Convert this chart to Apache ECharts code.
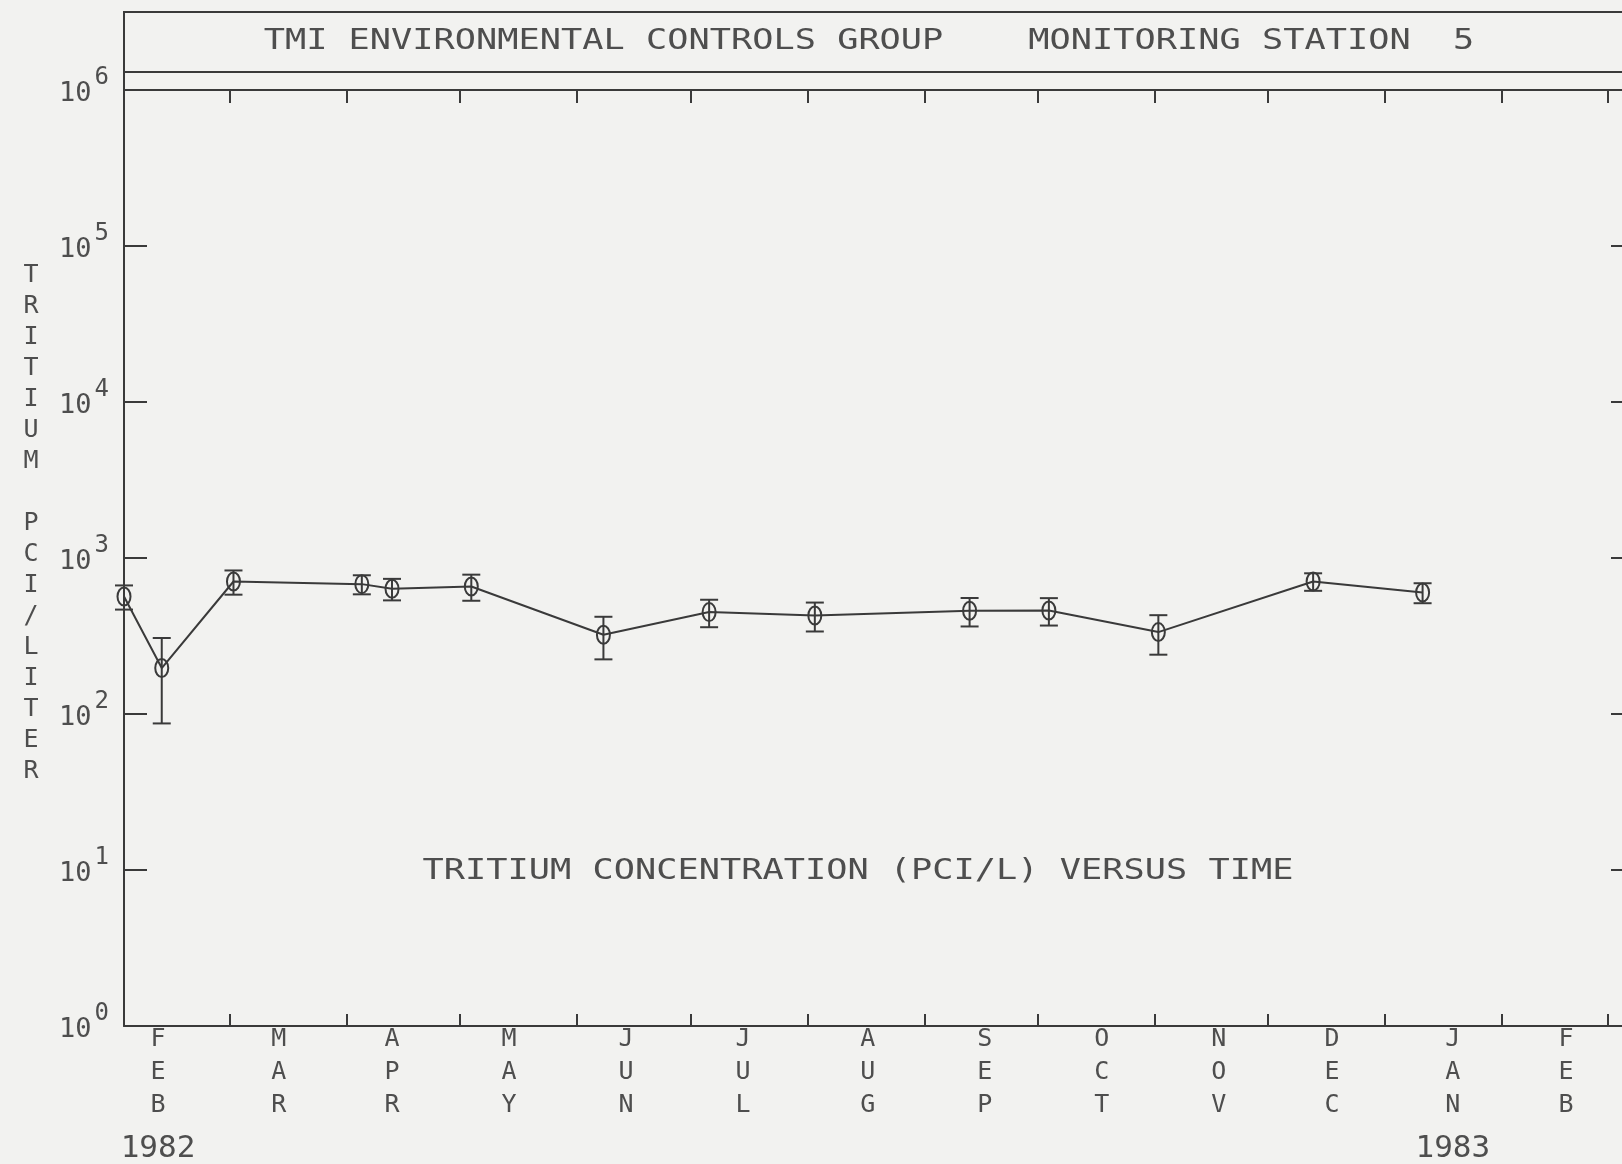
<!DOCTYPE html>
<html>
<head>
<meta charset="utf-8">
<title>Tritium concentration versus time - Monitoring Station 5</title>
<script src="https://cdn.jsdelivr.net/npm/echarts@6/dist/echarts.min.js"></script>
<style>
  html, body { margin: 0; padding: 0; background: #f2f2f0; }
  #chart { width: 1622px; height: 1164px; }
</style>
</head>
<body>
<div id="chart"></div>
<script>
// Sampling dates and tritium concentration (pCi/L) with one-sigma counting error
const sampleDates = ['1982-02-01', '1982-02-11', '1982-03-02', '1982-04-05', '1982-04-13',
  '1982-05-04', '1982-06-08', '1982-07-06', '1982-08-03', '1982-09-13', '1982-10-04',
  '1982-11-02', '1982-12-13', '1983-01-11'];
const tritium = [567, 197, 707, 680, 635, 657, 322, 450, 428, 459, 461, 335, 707, 601];
const tritiumError = [100, 110, 125, 95, 100, 125, 98, 90, 90, 95, 92, 95, 91, 88];

// Date axis: span, month boundaries and month / year labels
const axisStart = '1982-02-01';
const axisEnd = '1983-03-08';
const monthTicks = ['1982-02-01', '1982-03-01', '1982-04-01', '1982-05-01', '1982-06-01',
  '1982-07-01', '1982-08-01', '1982-09-01', '1982-10-01', '1982-11-01', '1982-12-01',
  '1983-01-01', '1983-02-01', '1983-03-01'];
const monthLabelDates = ['1982-02-10', '1982-03-14', '1982-04-13', '1982-05-14', '1982-06-14',
  '1982-07-15', '1982-08-17', '1982-09-17', '1982-10-18', '1982-11-18', '1982-12-18',
  '1983-01-19', '1983-02-18'];
const monthLabels = ['FEB', 'MAR', 'APR', 'MAY', 'JUN', 'JUL', 'AUG', 'SEP', 'OCT', 'NOV', 'DEC', 'JAN', 'FEB'];
const yearLabels = ['1982', '', '', '', '', '', '', '', '', '', '', '1983', ''];

// Log axis range (pCi/L)
const yMin = 1;
const yMax = 1e6;

const titleText = 'TMI ENVIRONMENTAL CONTROLS GROUP    MONITORING STATION  5';
const captionText = 'TRITIUM CONCENTRATION (PCI/L) VERSUS TIME';
const yAxisTitle = 'TRITIUM PCI/LITER';

const INK = '#3a3a3a';
const TEXT = '#4e4e4e';
const MONO = '"DejaVu Sans Mono", "Liberation Mono", monospace';

// Dates are plotted as millisecond timestamps (UTC) on a linear axis
function toTime(s) {
  const [y, m, d] = s.split('-').map(Number);
  return Date.UTC(y, m - 1, d);
}

const labelTimes = monthLabelDates.map(toTime);
const seriesData = sampleDates.map((d, i) => [toTime(d), tritium[i], tritiumError[i]]);

function monthLabel(value) {
  let best = 0, bestDist = Infinity;
  labelTimes.forEach((t, i) => {
    const dist = Math.abs(t - value);
    if (dist < bestDist) { bestDist = dist; best = i; }
  });
  const letters = monthLabels[best].split('').join('\n');
  return yearLabels[best] ? letters + '\n{yr|' + yearLabels[best] + '}' : letters;
}

function decadeLabel(value) {
  const n = Math.round(Math.log10(value));
  return '{b|10}{e|' + n + '}';
}

// Error bar with caps plus an open oval marker at each sample
function renderErrorMarker(params, api) {
  const t = api.value(0);
  const v = api.value(1);
  const e = api.value(2);
  const c = api.coord([t, v]);
  const hi = api.coord([t, v + e]);
  const lo = api.coord([t, Math.max(v - e, yMin)]);
  const cap = 9;
  const style = { stroke: INK, lineWidth: 2, fill: null };
  return {
    type: 'group',
    children: [
      { type: 'line', shape: { x1: c[0], y1: hi[1], x2: c[0], y2: lo[1] }, style: style },
      { type: 'line', shape: { x1: c[0] - cap, y1: hi[1], x2: c[0] + cap, y2: hi[1] }, style: style },
      { type: 'line', shape: { x1: c[0] - cap, y1: lo[1], x2: c[0] + cap, y2: lo[1] }, style: style },
      { type: 'ellipse', shape: { cx: c[0], cy: c[1], rx: 6.5, ry: 9 }, style: { stroke: INK, lineWidth: 2, fill: 'rgba(0,0,0,0)' } }
    ]
  };
}

const chart = echarts.init(document.getElementById('chart'));

const dateAxisCommon = {
  type: 'value',
  min: toTime(axisStart),
  max: toTime(axisEnd),
  scale: true,
  splitLine: { show: false },
  axisLine: { show: true, lineStyle: { color: INK, width: 2 } }
};

const logAxisCommon = {
  type: 'log',
  logBase: 10,
  min: yMin,
  max: yMax,
  splitNumber: 6,
  splitLine: { show: false },
  minorTick: { show: false },
  axisLine: { show: true, lineStyle: { color: INK, width: 2 } },
  axisTick: { show: true, inside: true, length: 23, lineStyle: { color: INK, width: 2 } }
};

chart.setOption({
  animation: false,
  backgroundColor: '#f2f2f0',
  grid: {
    left: 124,
    right: -12,
    top: 90,
    bottom: 138,
    containLabel: false,
    outerBoundsMode: 'none'
  },
  xAxis: [
    Object.assign({}, dateAxisCommon, {
      position: 'bottom',
      axisTick: {
        show: true, inside: true, length: 12,
        customValues: monthTicks.map(toTime),
        lineStyle: { color: INK, width: 2 }
      },
      axisLabel: {
        show: true,
        customValues: labelTimes,
        formatter: monthLabel,
        margin: -3,
        fontFamily: MONO,
        fontSize: 25,
        lineHeight: 33,
        color: TEXT,
        align: 'center',
        rich: {
          yr: { fontFamily: MONO, fontSize: 31, lineHeight: 54, color: TEXT }
        }
      }
    }),
    Object.assign({}, dateAxisCommon, {
      position: 'top',
      axisTick: {
        show: true, inside: true, length: 13,
        customValues: monthTicks.map(toTime),
        lineStyle: { color: INK, width: 2 }
      },
      axisLabel: { show: false }
    })
  ],
  yAxis: [
    Object.assign({}, logAxisCommon, {
      position: 'left',
      axisLabel: {
        show: true,
        margin: 15,
        formatter: decadeLabel,
        color: TEXT,
        fontFamily: MONO,
        rich: {
          b: { fontFamily: MONO, fontSize: 27, verticalAlign: 'top', padding: [14, 0, 0, 0], color: TEXT },
          e: { fontFamily: MONO, fontSize: 24, verticalAlign: 'top', padding: [0, 0, 24, 3], color: TEXT }
        }
      }
    }),
    Object.assign({}, logAxisCommon, {
      position: 'right',
      axisLabel: { show: false }
    })
  ],
  series: [
    {
      name: 'Tritium',
      type: 'line',
      xAxisIndex: 0,
      yAxisIndex: 0,
      data: seriesData.map(d => [d[0], d[1]]),
      showSymbol: false,
      lineStyle: { color: INK, width: 2 },
      clip: false,
      z: 2
    },
    {
      name: 'Tritium error',
      type: 'custom',
      xAxisIndex: 0,
      yAxisIndex: 0,
      data: seriesData,
      encode: { x: 0, y: 1 },
      renderItem: renderErrorMarker,
      clip: false,
      z: 3
    }
  ],
  graphic: [
    // Header box above the plot
    {
      type: 'rect',
      shape: { x: 124, y: 12, width: 1530, height: 78 },
      style: { fill: null, stroke: INK, lineWidth: 2 },
      silent: true
    },
    {
      type: 'line',
      shape: { x1: 124, y1: 72, x2: 1654, y2: 72 },
      style: { stroke: INK, lineWidth: 2 },
      silent: true
    },
    {
      type: 'text',
      x: 869,
      y: 42,
      scaleX: 1.26,
      style: {
        text: titleText,
        x: 0, y: 0,
        align: 'center',
        verticalAlign: 'middle',
        font: '28px ' + MONO,
        fill: TEXT
      },
      silent: true
    },
    {
      type: 'text',
      x: 858,
      y: 872,
      scaleX: 1.26,
      style: {
        text: captionText,
        x: 0, y: 0,
        align: 'center',
        verticalAlign: 'middle',
        font: '28px ' + MONO,
        fill: TEXT
      },
      silent: true
    },
    {
      type: 'text',
      x: 31,
      y: 523,
      style: {
        text: yAxisTitle.split('').map(ch => ch === ' ' ? '' : ch).join('\n'),
        x: 0, y: 0,
        align: 'center',
        verticalAlign: 'middle',
        font: '25px ' + MONO,
        lineHeight: 31,
        fill: TEXT
      },
      silent: true
    }
  ]
});
</script>
</body>
</html>
